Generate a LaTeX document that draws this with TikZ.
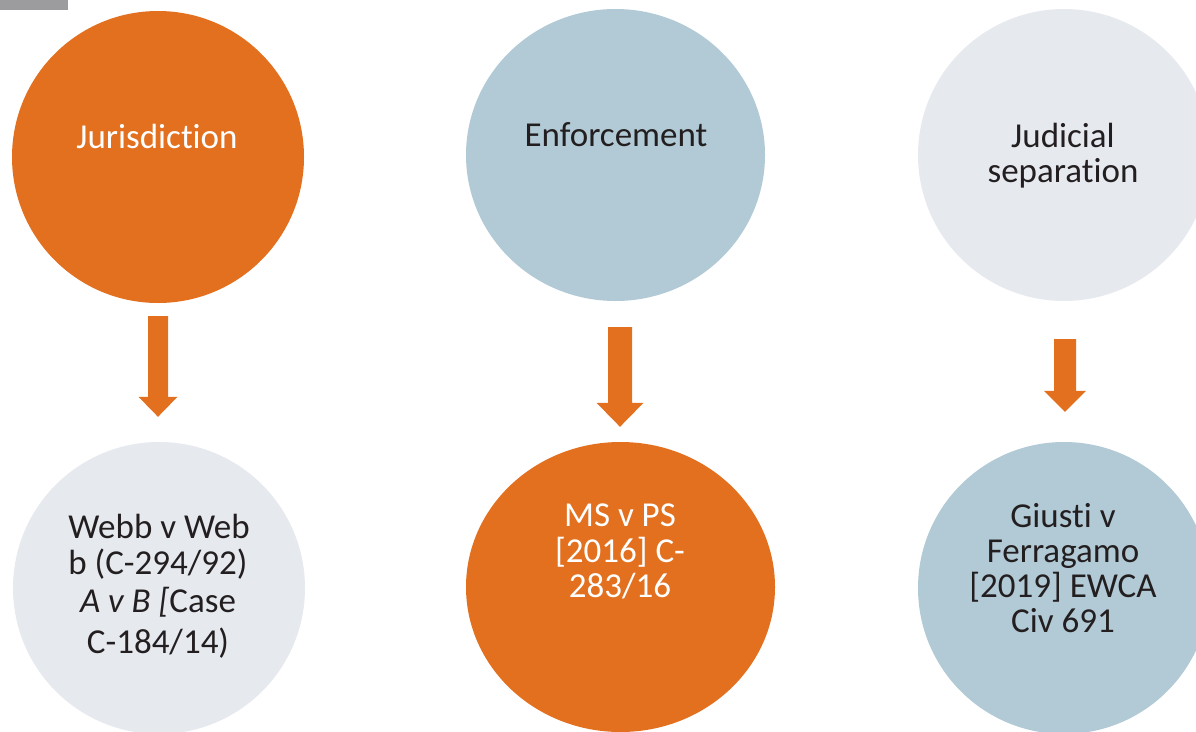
\documentclass[tikz,border=0pt]{standalone}
\usepackage{fontspec}
\setmainfont{Carlito}[Ligatures=NoCommon]
\usetikzlibrary{calc,shapes.geometric}
\definecolor{accent}{HTML}{E2701F}
\definecolor{paleblue}{HTML}{B2CAD6}
\definecolor{palegray}{HTML}{E6E9EE}
\definecolor{darktext}{HTML}{231F20}
\definecolor{tabgray}{HTML}{9C9C9F}
\tikzset{
  disc/.style={ellipse, inner sep=0pt, draw=none},
  lbl/.style={anchor=base, inner sep=0pt, font=\fontsize{35}{38}\selectfont},
  onorange/.style={lbl, text=white},
  ondark/.style={lbl, text=darktext},
}
\newcommand\blockarr[5]{%
  \fill[accent] let \p1=(#1), \p2=(#2) in
    (\x1-#3,\y1) -- (\x1+#3,\y1) -- (\x1+#3,\y2+#5) -- (\x1+#4,\y2+#5)
    -- (\x2,\y2) -- (\x1-#4,\y2+#5) -- (\x1-#3,\y2+#5) -- cycle;}
\begin{document}
\begin{tikzpicture}[x=1pt,y=-1pt]
\useasboundingbox (0,0) rectangle (1196,731);
\clip (0,0) rectangle (1196,731);
\fill[tabgray] (0,0) rectangle (68,10);
% top row
\node[disc, fill=accent, minimum width=292pt, minimum height=292pt] (t1) at (158,157) {};
\node[disc, fill=paleblue, minimum width=299pt, minimum height=292pt] (t2) at (615.5,155) {};
\node[disc, fill=palegray, minimum width=292pt, minimum height=292pt] (t3) at (1064,155) {};
% bottom row
\node[disc, fill=palegray, minimum width=292pt, minimum height=292pt] (b1) at (159,588) {};
\node[disc, fill=accent, minimum width=309pt, minimum height=290pt] (b2) at (620.5,587) {};
\node[disc, fill=paleblue, minimum width=292pt, minimum height=292pt] (b3) at (1064,588) {};
% texts
\node[onorange] (t1a) at (157,148) {Jurisdiction};
\node[ondark] (t2a) at (616,146) {Enforcement};
\node[ondark] (t3a) at (1063,147) {Judicial};
\node[ondark] (t3b) at (1063,182) {separation};
\node[ondark] (b1a) at (159,538) {Webb v Web};
\node[ondark] (b1b) at (158,574) {b (C-294/92)};
\node[ondark] (b1c) at (158,612) {\textit{A v B [}Case};
\node[ondark] (b1d) at (158,653) {C-184/14)};
\node[onorange] (b2a) at (620,526) {MS v PS};
\node[onorange] (b2b) at (620,562) {[2016] C-};
\node[onorange] (b2c) at (620,597) {283/16};
\node[ondark] (b3a) at (1063,527) {Giusti v};
\node[ondark] (b3b) at (1063,562) {Ferragamo};
\node[ondark] (b3c) at (1063,597) {[2019] EWCA};
\node[ondark] (b3d) at (1063,632) {Civ 691};
% connectors
\coordinate (a1s) at ($(t1.south)+(0,13)$);
\coordinate (a1e) at ($(b1.north)+(-1,-25)$);
\coordinate (a2s) at ($(t2.south)+(4.5,26)$);
\coordinate (a2e) at ($(b2.north)+(-0.5,-15)$);
\coordinate (a3s) at ($(t3.south)+(1,38)$);
\coordinate (a3e) at ($(b3.north)+(1,-30)$);
\blockarr{a1s}{a1e}{10pt}{19.5pt}{20pt}
\blockarr{a2s}{a2e}{12pt}{23.5pt}{24pt}
\blockarr{a3s}{a3e}{11pt}{21pt}{21pt}
\end{tikzpicture}
\end{document}
